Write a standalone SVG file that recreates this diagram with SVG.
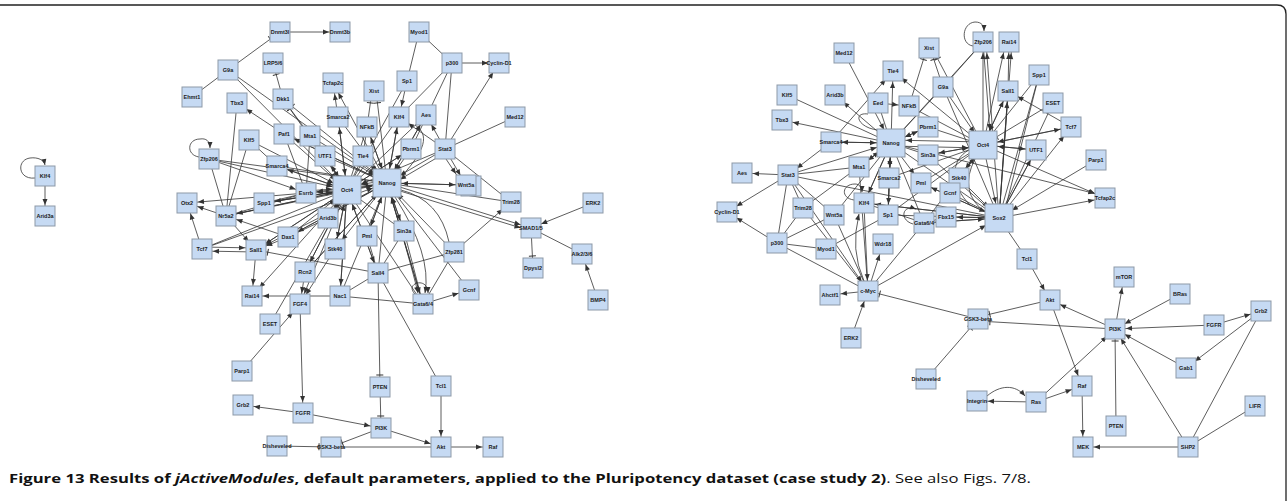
<svg xmlns="http://www.w3.org/2000/svg" width="1287" height="501" viewBox="0 0 1287 501">
<style>
.n rect{fill:#c6daf3;stroke:#8d99a7;stroke-width:1}
.n text{font-family:"Liberation Sans",Arial,sans-serif;font-weight:bold;font-size:5.5px;text-anchor:middle;fill:#1b1b1b}
.c line,.c path{stroke:#333;stroke-width:0.8;fill:none}
.cap{font-family:"Open Sans","Liberation Sans",sans-serif;font-size:12.5px;fill:#111}
</style>
<defs>
<marker id="a" markerUnits="userSpaceOnUse" markerWidth="7" markerHeight="5" refX="17" refY="2.5" orient="auto" overflow="visible"><path d="M0,0 L6,2.5 L0,5 z" fill="#333"/></marker>
<marker id="A" markerUnits="userSpaceOnUse" markerWidth="7" markerHeight="5" refX="21" refY="2.5" orient="auto" overflow="visible"><path d="M0,0 L6,2.5 L0,5 z" fill="#333"/></marker>
<marker id="p" markerUnits="userSpaceOnUse" markerWidth="7" markerHeight="5" refX="6" refY="2.5" orient="auto" overflow="visible"><path d="M0,0 L6,2.5 L0,5 z" fill="#333"/></marker>
<marker id="t" markerUnits="userSpaceOnUse" markerWidth="2" markerHeight="7" refX="12" refY="3.5" orient="auto" overflow="visible"><path d="M0,0 V7" stroke="#333" stroke-width="1"/></marker>
<marker id="T" markerUnits="userSpaceOnUse" markerWidth="2" markerHeight="7" refX="16" refY="3.5" orient="auto" overflow="visible"><path d="M0,0 V7" stroke="#333" stroke-width="1"/></marker>
</defs>
<rect width="1287" height="501" fill="#fff"/>
<path d="M0,5 H1277 Q1286,5 1286,14 V501" fill="none" stroke="#222" stroke-width="1.3"/>

<g id="connectors" class="c">
<!-- LEFT plain -->
<g>
<line x1="228" y1="70" x2="192" y2="97"/><line x1="237" y1="103" x2="226" y2="216"/><line x1="249" y1="140" x2="226" y2="216"/>
<line x1="419" y1="32" x2="407" y2="81"/><line x1="419" y1="32" x2="452" y2="63"/><line x1="452" y1="63" x2="399" y2="117"/>
<line x1="452" y1="63" x2="445" y2="149"/><line x1="452" y1="63" x2="411" y2="149"/><line x1="407" y1="81" x2="347" y2="190"/>
<line x1="445" y1="149" x2="515" y2="117"/><line x1="445" y1="149" x2="511" y2="202"/><line x1="387" y1="183" x2="511" y2="202"/>
<line x1="531" y1="228" x2="582" y2="254"/><line x1="454" y1="252" x2="378" y2="273"/><line x1="454" y1="252" x2="423" y2="304"/>
<line x1="469" y1="290" x2="387" y2="183"/><line x1="404" y1="231" x2="378" y2="273"/><line x1="404" y1="231" x2="423" y2="304"/>
<line x1="378" y1="273" x2="441" y2="386"/><line x1="331" y1="447" x2="441" y2="447"/><line x1="340" y1="296" x2="423" y2="304"/>
<line x1="340" y1="296" x2="378" y2="273"/><line x1="340" y1="296" x2="347" y2="190"/><line x1="209" y1="159" x2="226" y2="216"/>
<line x1="264" y1="203" x2="306" y2="193"/><line x1="328" y1="218" x2="288" y2="237"/><line x1="367" y1="236" x2="378" y2="273"/>
<line x1="277" y1="166" x2="387" y2="183"/><line x1="270" y1="324" x2="347" y2="190"/><line x1="249" y1="140" x2="277" y2="166"/>
<line x1="202" y1="249" x2="347" y2="190"/><line x1="226" y1="216" x2="306" y2="193"/><line x1="226" y1="216" x2="347" y2="190"/>
<line x1="305" y1="272" x2="347" y2="190"/><line x1="209" y1="159" x2="387" y2="183"/><line x1="284" y1="134" x2="306" y2="193"/>
<line x1="310" y1="136" x2="306" y2="193"/><line x1="404" y1="231" x2="347" y2="190"/><line x1="423" y1="304" x2="347" y2="190"/>
<line x1="378" y1="273" x2="387" y2="183"/><line x1="367" y1="127" x2="347" y2="190"/><line x1="363" y1="156" x2="347" y2="190"/>
<line x1="325" y1="156" x2="387" y2="183"/><line x1="411" y1="149" x2="347" y2="190"/><line x1="426" y1="115" x2="347" y2="190"/>
<line x1="338" y1="117" x2="387" y2="183"/><line x1="399" y1="117" x2="347" y2="190"/><line x1="284" y1="134" x2="387" y2="183"/>
<line x1="305" y1="272" x2="387" y2="183"/><line x1="288" y1="237" x2="387" y2="183"/><line x1="256" y1="250" x2="347" y2="190"/>
<line x1="264" y1="203" x2="387" y2="183"/><line x1="340" y1="296" x2="387" y2="183"/>
<path d="M449,242 Q440,200 401,190"/>
<path d="M402,176 C425,150 430,135 415,125"/>
</g>
<g marker-end="url(#a)">
<line x1="280" y1="32" x2="340" y2="32"/><line x1="284" y1="134" x2="237" y2="103"/><line x1="338" y1="117" x2="333" y2="83"/>
<line x1="387" y1="183" x2="333" y2="83"/><line x1="452" y1="63" x2="499" y2="63"/><line x1="445" y1="149" x2="499" y2="63"/>
<line x1="445" y1="149" x2="426" y2="115"/><line x1="445" y1="149" x2="399" y2="117"/><line x1="407" y1="81" x2="399" y2="117"/>
<line x1="445" y1="149" x2="466" y2="185"/><line x1="440" y1="150" x2="462" y2="183"/><line x1="387" y1="183" x2="466" y2="185"/>
<line x1="387" y1="183" x2="531" y2="228"/><line x1="387" y1="187" x2="531" y2="231"/><line x1="593" y1="203" x2="531" y2="228"/>
<line x1="598" y1="300" x2="582" y2="254"/><line x1="454" y1="252" x2="511" y2="202"/><line x1="423" y1="304" x2="469" y2="290"/>
<line x1="441" y1="386" x2="441" y2="447"/><line x1="381" y1="428" x2="441" y2="447"/><line x1="441" y1="447" x2="493" y2="447"/>
<line x1="303" y1="413" x2="243" y2="405"/><line x1="303" y1="413" x2="381" y2="428"/><line x1="300" y1="304" x2="303" y2="413"/>
<line x1="242" y1="371" x2="300" y2="304"/><line x1="340" y1="296" x2="252" y2="296"/><line x1="256" y1="250" x2="252" y2="296"/>
<line x1="202" y1="247" x2="256" y2="248"/><line x1="256" y1="252" x2="202" y2="251"/><line x1="202" y1="249" x2="187" y2="203"/>
<line x1="226" y1="216" x2="187" y2="203"/><line x1="306" y1="193" x2="187" y2="203"/><line x1="226" y1="216" x2="256" y2="250"/>
<line x1="288" y1="237" x2="226" y2="216"/><line x1="209" y1="159" x2="306" y2="193"/><line x1="288" y1="237" x2="256" y2="250"/>
<line x1="305" y1="272" x2="300" y2="304"/><line x1="335" y1="249" x2="300" y2="304"/><line x1="347" y1="190" x2="300" y2="304"/>
<line x1="347" y1="190" x2="252" y2="296"/><line x1="347" y1="190" x2="256" y2="250"/><line x1="387" y1="183" x2="256" y2="250"/>
<line x1="347" y1="190" x2="305" y2="272"/><line x1="347" y1="190" x2="335" y2="249"/><line x1="387" y1="183" x2="335" y2="249"/>
<line x1="347" y1="190" x2="340" y2="296"/><line x1="387" y1="183" x2="367" y2="236"/><line x1="347" y1="190" x2="328" y2="218"/>
<line x1="387" y1="183" x2="404" y2="231"/><line x1="387" y1="183" x2="423" y2="304"/><line x1="347" y1="190" x2="378" y2="273"/>
<line x1="347" y1="190" x2="306" y2="193"/><line x1="387" y1="183" x2="399" y2="117"/><line x1="347" y1="190" x2="411" y2="149"/>
<line x1="387" y1="183" x2="363" y2="156"/><line x1="347" y1="190" x2="325" y2="156"/><line x1="387" y1="183" x2="367" y2="127"/>
<line x1="347" y1="190" x2="338" y2="117"/><line x1="347" y1="190" x2="310" y2="136"/><line x1="387" y1="183" x2="284" y2="134"/>
<line x1="347" y1="190" x2="277" y2="166"/><line x1="347" y1="190" x2="264" y2="203"/><line x1="387" y1="183" x2="306" y2="193"/>
<line x1="347" y1="190" x2="226" y2="216"/><line x1="387" y1="183" x2="288" y2="237"/><line x1="387" y1="183" x2="426" y2="115"/>
<line x1="45" y1="176" x2="45" y2="216"/>
</g>
<g marker-end="url(#A)">
<line x1="228" y1="70" x2="347" y2="190"/><line x1="228" y1="70" x2="387" y2="183"/><line x1="249" y1="140" x2="347" y2="190"/>
<line x1="445" y1="149" x2="387" y2="183"/><line x1="445" y1="153" x2="387" y2="187"/><line x1="445" y1="149" x2="347" y2="190"/>
<line x1="209" y1="159" x2="347" y2="190"/><line x1="277" y1="166" x2="347" y2="190"/><line x1="306" y1="191" x2="347" y2="188"/>
<line x1="310" y1="136" x2="387" y2="183"/><line x1="325" y1="156" x2="347" y2="190"/><line x1="363" y1="156" x2="387" y2="183"/>
<line x1="367" y1="127" x2="387" y2="183"/><line x1="411" y1="149" x2="387" y2="183"/><line x1="399" y1="117" x2="387" y2="183"/>
<line x1="426" y1="115" x2="387" y2="183"/><line x1="466" y1="185" x2="387" y2="183"/><line x1="404" y1="231" x2="387" y2="183"/>
<line x1="454" y1="252" x2="387" y2="183"/><line x1="378" y1="273" x2="347" y2="190"/><line x1="367" y1="236" x2="387" y2="183"/>
<line x1="335" y1="249" x2="347" y2="190"/><line x1="288" y1="237" x2="347" y2="190"/><line x1="328" y1="218" x2="347" y2="190"/>
<line x1="264" y1="203" x2="347" y2="190"/><line x1="226" y1="216" x2="387" y2="183"/><line x1="202" y1="249" x2="387" y2="183"/>
<line x1="347" y1="190" x2="387" y2="183"/><line x1="387" y1="180" x2="347" y2="187"/><line x1="423" y1="304" x2="387" y2="183"/>
<line x1="338" y1="117" x2="347" y2="190"/><line x1="284" y1="134" x2="347" y2="190"/><line x1="305" y1="272" x2="387" y2="183"/>
</g>
<g marker-end="url(#t)">
<line x1="228" y1="70" x2="280" y2="32"/><line x1="283" y1="99" x2="273" y2="63"/><line x1="363" y1="156" x2="372" y2="91"/>
<line x1="387" y1="183" x2="376" y2="91"/><line x1="347" y1="190" x2="283" y2="99"/><line x1="387" y1="183" x2="283" y2="99"/>
<line x1="325" y1="156" x2="283" y2="99"/><line x1="531" y1="228" x2="533" y2="268"/><line x1="378" y1="273" x2="256" y2="250"/>
<line x1="378" y1="273" x2="380" y2="387"/><line x1="380" y1="387" x2="381" y2="428"/><line x1="381" y1="428" x2="331" y2="447"/>
<line x1="277" y1="446" x2="331" y2="447"/>
</g>
<g marker-end="url(#p)">
<path d="M199,157 C186,155 187,139 200,139 C206,138 210,141 210,148"/>
<path d="M415,294 C404,283 428,276 428,293"/>
<path d="M395,197 Q432,255 425,293"/>
<path d="M391,197 Q410,260 418,293"/>
<path d="M35,178 C18,180 16,160 30,158 C38,157 44,160 45,165"/>
</g>

<!-- RIGHT plain -->
<g>
<line x1="787" y1="95" x2="891" y2="143"/><line x1="878" y1="103" x2="891" y2="143"/><line x1="943" y1="87" x2="983" y2="42"/>
<line x1="928" y1="127" x2="983" y2="145"/><line x1="928" y1="155" x2="891" y2="143"/><line x1="1039" y1="75" x2="999" y2="218"/>
<line x1="1039" y1="75" x2="983" y2="145"/><line x1="999" y1="218" x2="1027" y2="259"/><line x1="1261" y1="311" x2="1188" y2="447"/>
<line x1="1255" y1="406" x2="1188" y2="447"/><line x1="868" y1="291" x2="924" y2="223"/><line x1="777" y1="243" x2="868" y2="291"/>
<line x1="859" y1="167" x2="868" y2="291"/><line x1="788" y1="175" x2="777" y2="243"/><line x1="777" y1="243" x2="826" y2="249"/>
<line x1="777" y1="243" x2="834" y2="215"/><line x1="777" y1="243" x2="803" y2="208"/><line x1="826" y1="249" x2="888" y2="215"/>
<line x1="924" y1="223" x2="946" y2="217"/><line x1="788" y1="175" x2="859" y2="167"/><line x1="788" y1="175" x2="999" y2="218"/>
<line x1="788" y1="175" x2="834" y2="215"/><line x1="788" y1="175" x2="803" y2="208"/><line x1="864" y1="203" x2="891" y2="143"/>
<line x1="888" y1="215" x2="891" y2="143"/><line x1="921" y1="183" x2="983" y2="145"/><line x1="959" y1="178" x2="983" y2="145"/>
<line x1="950" y1="193" x2="999" y2="218"/><line x1="924" y1="223" x2="983" y2="145"/><line x1="924" y1="223" x2="891" y2="143"/>
<line x1="834" y1="215" x2="891" y2="143"/><line x1="803" y1="208" x2="891" y2="143"/><line x1="891" y1="143" x2="999" y2="218"/>
<line x1="864" y1="203" x2="999" y2="218"/><line x1="888" y1="215" x2="999" y2="218"/><line x1="928" y1="155" x2="999" y2="218"/>
<line x1="909" y1="106" x2="983" y2="145"/><line x1="943" y1="87" x2="999" y2="218"/><line x1="943" y1="87" x2="891" y2="143"/>
<line x1="983" y1="42" x2="891" y2="143"/><line x1="1008" y1="91" x2="999" y2="218"/><line x1="1053" y1="103" x2="999" y2="218"/>
<line x1="889" y1="178" x2="888" y2="215"/><line x1="864" y1="203" x2="924" y2="223"/><line x1="803" y1="208" x2="868" y2="291"/>
<line x1="834" y1="215" x2="868" y2="291"/><line x1="889" y1="178" x2="983" y2="145"/><line x1="888" y1="215" x2="983" y2="145"/>
<line x1="1036" y1="150" x2="999" y2="218"/><line x1="1039" y1="75" x2="1005" y2="210"/>
<path d="M975,159 Q958,192 985,212"/><path d="M878,130 C858,128 852,112 868,114"/><path d="M969,150 C950,160 950,185 970,205"/>
</g>
<g marker-end="url(#a)">
<line x1="891" y1="143" x2="893" y2="71"/><line x1="831" y1="142" x2="893" y2="71"/><line x1="983" y1="145" x2="893" y2="71"/>
<line x1="891" y1="143" x2="835" y2="95"/><line x1="891" y1="143" x2="782" y2="120"/><line x1="878" y1="103" x2="909" y2="106"/>
<line x1="891" y1="143" x2="928" y2="127"/><line x1="891" y1="143" x2="831" y2="142"/><line x1="983" y1="145" x2="983" y2="42"/>
<line x1="999" y1="218" x2="986" y2="42"/><line x1="1008" y1="91" x2="1009" y2="42"/><line x1="983" y1="145" x2="1006" y2="42"/>
<line x1="999" y1="218" x2="1012" y2="42"/><line x1="983" y1="145" x2="1008" y2="91"/><line x1="999" y1="218" x2="1008" y2="91"/>
<line x1="1071" y1="127" x2="1008" y2="91"/><line x1="983" y1="145" x2="1071" y2="127"/><line x1="999" y1="218" x2="1071" y2="127"/>
<line x1="983" y1="145" x2="1036" y2="150"/><line x1="999" y1="218" x2="1036" y2="150"/><line x1="983" y1="145" x2="1105" y2="198"/>
<line x1="891" y1="143" x2="1105" y2="196"/><line x1="999" y1="218" x2="1105" y2="198"/><line x1="1027" y1="259" x2="1050" y2="300"/>
<line x1="1050" y1="300" x2="1082" y2="386"/><line x1="1115" y1="329" x2="1050" y2="300"/><line x1="1115" y1="329" x2="1124" y2="277"/>
<line x1="1180" y1="294" x2="1115" y2="329"/><line x1="1214" y1="325" x2="1115" y2="329"/><line x1="1214" y1="325" x2="1261" y2="311"/>
<line x1="1261" y1="311" x2="1186" y2="368"/><line x1="1186" y1="368" x2="1115" y2="329"/><line x1="1188" y1="447" x2="1115" y2="329"/>
<line x1="1188" y1="447" x2="1083" y2="447"/><line x1="1036" y1="402" x2="1115" y2="329"/><line x1="1036" y1="402" x2="1082" y2="386"/>
<line x1="1082" y1="386" x2="1083" y2="447"/><line x1="1036" y1="402" x2="977" y2="401"/><line x1="851" y1="338" x2="868" y2="291"/>
<line x1="868" y1="291" x2="830" y2="295"/><line x1="868" y1="291" x2="883" y2="244"/><line x1="788" y1="175" x2="742" y2="173"/>
<line x1="788" y1="175" x2="727" y2="212"/><line x1="777" y1="243" x2="727" y2="212"/><line x1="999" y1="218" x2="946" y2="217"/>
<line x1="788" y1="175" x2="868" y2="291"/><line x1="891" y1="143" x2="864" y2="203"/><line x1="891" y1="143" x2="889" y2="178"/>
<line x1="891" y1="143" x2="859" y2="167"/><line x1="983" y1="145" x2="950" y2="193"/><line x1="983" y1="145" x2="959" y2="178"/>
<line x1="999" y1="218" x2="921" y2="183"/><line x1="999" y1="218" x2="924" y2="223"/><line x1="891" y1="143" x2="921" y2="183"/>
<line x1="864" y1="205" x2="868" y2="291"/><line x1="999" y1="218" x2="864" y2="203"/><line x1="983" y1="145" x2="928" y2="155"/>
<line x1="831" y1="142" x2="788" y2="175"/><line x1="891" y1="143" x2="888" y2="215"/>
</g>
<g marker-end="url(#A)">
<line x1="844" y1="53" x2="891" y2="143"/><line x1="831" y1="142" x2="891" y2="143"/><line x1="983" y1="142" x2="891" y2="140"/>
<line x1="1071" y1="127" x2="983" y2="145"/><line x1="1096" y1="160" x2="999" y2="218"/><line x1="868" y1="291" x2="999" y2="218"/>
<line x1="891" y1="146" x2="983" y2="148"/><line x1="983" y1="145" x2="999" y2="218"/><line x1="788" y1="175" x2="891" y2="143"/>
<line x1="859" y1="167" x2="891" y2="143"/><line x1="943" y1="87" x2="983" y2="145"/><line x1="928" y1="155" x2="983" y2="145"/>
<line x1="921" y1="183" x2="999" y2="218"/><line x1="924" y1="223" x2="999" y2="218"/><line x1="959" y1="178" x2="999" y2="218"/>
<line x1="983" y1="42" x2="991" y2="145"/><line x1="1008" y1="91" x2="983" y2="145"/><line x1="928" y1="127" x2="891" y2="143"/>
<line x1="950" y1="193" x2="983" y2="145"/><line x1="889" y1="178" x2="891" y2="143"/><line x1="1036" y1="150" x2="983" y2="145"/>
</g>
<g marker-end="url(#t)">
<line x1="909" y1="106" x2="927" y2="48"/><line x1="943" y1="87" x2="930" y2="48"/><line x1="983" y1="145" x2="932" y2="48"/>
<line x1="1050" y1="300" x2="978" y2="317"/><line x1="1115" y1="329" x2="978" y2="321"/><line x1="926" y1="379" x2="978" y2="319"/>
<line x1="978" y1="319" x2="868" y2="291"/><line x1="1116" y1="426" x2="1115" y2="329"/>
</g>
<g marker-end="url(#T)">
<line x1="1053" y1="103" x2="983" y2="145"/>
</g>
<g marker-end="url(#p)">
<path d="M973,46 C960,44 962,23 975,22 C982,22 984,26 984,31"/>
<path d="M854,200 C840,198 842,184 855,184 C860,184 862,188 862,192"/>
<path d="M864,281 Q850,250 859,214"/>
<path d="M987,396 C1000,385 1015,384 1025,396"/>
<path d="M913,224 C899,220 902,204 916,209"/>
</g>
</g>

<!-- LEFT nodes -->
<g id="L_Klf4" class="n"><rect x="35" y="166" width="20" height="20"/><text x="45" y="178">Klf4</text></g>
<g id="L_Arid3a" class="n"><rect x="35" y="206" width="20" height="20"/><text x="45" y="218">Arid3a</text></g>
<g id="L_Dnmt3l" class="n"><rect x="270" y="22" width="20" height="20"/><text x="280" y="34">Dnmt3l</text></g>
<g id="L_Dnmt3b" class="n"><rect x="330" y="22" width="20" height="20"/><text x="340" y="34">Dnmt3b</text></g>
<g id="L_G9a" class="n"><rect x="218" y="60" width="20" height="20"/><text x="228" y="72">G9a</text></g>
<g id="L_LRP56" class="n"><rect x="263" y="53" width="20" height="20"/><text x="273" y="65">LRP5/6</text></g>
<g id="L_Ehmt1" class="n"><rect x="182" y="87" width="20" height="20"/><text x="192" y="99">Ehmt1</text></g>
<g id="L_Tbx3" class="n"><rect x="227" y="93" width="20" height="20"/><text x="237" y="105">Tbx3</text></g>
<g id="L_Dkk1" class="n"><rect x="273" y="89" width="20" height="20"/><text x="283" y="101">Dkk1</text></g>
<g id="L_Tcfap2c" class="n"><rect x="323" y="73" width="20" height="20"/><text x="333" y="85">Tcfap2c</text></g>
<g id="L_Xist" class="n"><rect x="364" y="81" width="20" height="20"/><text x="374" y="93">Xist</text></g>
<g id="L_Smarca2" class="n"><rect x="328" y="107" width="20" height="20"/><text x="338" y="119">Smarca2</text></g>
<g id="L_NFkB" class="n"><rect x="357" y="117" width="20" height="20"/><text x="367" y="129">NFkB</text></g>
<g id="L_Paf1" class="n"><rect x="274" y="124" width="20" height="20"/><text x="284" y="136">Paf1</text></g>
<g id="L_Mta1" class="n"><rect x="300" y="126" width="20" height="20"/><text x="310" y="138">Mta1</text></g>
<g id="L_Klf5" class="n"><rect x="239" y="130" width="20" height="20"/><text x="249" y="142">Klf5</text></g>
<g id="L_UTF1" class="n"><rect x="315" y="146" width="20" height="20"/><text x="325" y="158">UTF1</text></g>
<g id="L_Tle4" class="n"><rect x="353" y="146" width="20" height="20"/><text x="363" y="158">Tle4</text></g>
<g id="L_Zfp206" class="n"><rect x="199" y="149" width="20" height="20"/><text x="209" y="161">Zfp206</text></g>
<g id="L_Myod1" class="n"><rect x="409" y="22" width="20" height="20"/><text x="419" y="34">Myod1</text></g>
<g id="L_p300" class="n"><rect x="442" y="53" width="20" height="20"/><text x="452" y="65">p300</text></g>
<g id="L_CyclinD1" class="n"><rect x="489" y="53" width="20" height="20"/><text x="499" y="65">Cyclin-D1</text></g>
<g id="L_Sp1" class="n"><rect x="397" y="71" width="20" height="20"/><text x="407" y="83">Sp1</text></g>
<g id="L_Klf4b" class="n"><rect x="389" y="107" width="20" height="20"/><text x="399" y="119">Klf4</text></g>
<g id="L_Aes" class="n"><rect x="416" y="105" width="20" height="20"/><text x="426" y="117">Aes</text></g>
<g id="L_Med12" class="n"><rect x="505" y="107" width="20" height="20"/><text x="515" y="119">Med12</text></g>
<g id="L_Pbrm1" class="n"><rect x="401" y="139" width="20" height="20"/><text x="411" y="151">Pbrm1</text></g>
<g id="L_Stat3" class="n"><rect x="435" y="139" width="20" height="20"/><text x="445" y="151">Stat3</text></g>
<g id="L_Smarca4" class="n"><rect x="267" y="156" width="20" height="20"/><text x="277" y="168">Smarca4</text></g>
<g id="L_Esrrb" class="n"><rect x="296" y="183" width="20" height="20"/><text x="306" y="195">Esrrb</text></g>
<g id="L_Oct4" class="n"><rect x="333" y="176" width="28" height="28"/><text x="347" y="192">Oct4</text></g>
<g id="L_Nanog" class="n"><rect x="373" y="169" width="28" height="28"/><text x="387" y="185">Nanog</text></g>
<g id="L_Otx2" class="n"><rect x="177" y="193" width="20" height="20"/><text x="187" y="205">Otx2</text></g>
<g id="L_Spp1" class="n"><rect x="254" y="193" width="20" height="20"/><text x="264" y="205">Spp1</text></g>
<g id="L_Nr5a2" class="n"><rect x="216" y="206" width="20" height="20"/><text x="226" y="218">Nr5a2</text></g>
<g id="L_Arid3b" class="n"><rect x="318" y="208" width="20" height="20"/><text x="328" y="220">Arid3b</text></g>
<g id="L_Dax1" class="n"><rect x="278" y="227" width="20" height="20"/><text x="288" y="239">Dax1</text></g>
<g id="L_Pml" class="n"><rect x="357" y="226" width="20" height="20"/><text x="367" y="238">Pml</text></g>
<g id="L_Tcf7" class="n"><rect x="192" y="239" width="20" height="20"/><text x="202" y="251">Tcf7</text></g>
<g id="L_Sall1" class="n"><rect x="246" y="240" width="20" height="20"/><text x="256" y="252">Sall1</text></g>
<g id="L_Stk40" class="n"><rect x="325" y="239" width="20" height="20"/><text x="335" y="251">Stk40</text></g>
<g id="L_Sall4" class="n"><rect x="368" y="263" width="20" height="20"/><text x="378" y="275">Sall4</text></g>
<g id="L_Rcn2" class="n"><rect x="295" y="262" width="20" height="20"/><text x="305" y="274">Rcn2</text></g>
<g id="L_Rai14" class="n"><rect x="242" y="286" width="20" height="20"/><text x="252" y="298">Rai14</text></g>
<g id="L_Nac1" class="n"><rect x="330" y="286" width="20" height="20"/><text x="340" y="298">Nac1</text></g>
<g id="L_FGF4" class="n"><rect x="290" y="294" width="20" height="20"/><text x="300" y="306">FGF4</text></g>
<g id="L_Wnt5a" class="n"><rect x="461" y="176" width="20" height="20"/><rect x="456" y="175" width="20" height="20"/><text x="466" y="187">Wnt5a</text></g>
<g id="L_Trim28" class="n"><rect x="501" y="192" width="20" height="20"/><text x="511" y="204">Trim28</text></g>
<g id="L_ERK2" class="n"><rect x="583" y="193" width="20" height="20"/><text x="593" y="205">ERK2</text></g>
<g id="L_SMAD15" class="n"><rect x="521" y="218" width="20" height="20"/><text x="531" y="230">SMAD1/5</text></g>
<g id="L_Sin3a" class="n"><rect x="394" y="221" width="20" height="20"/><text x="404" y="233">Sin3a</text></g>
<g id="L_Zfp281" class="n"><rect x="444" y="242" width="20" height="20"/><text x="454" y="254">Zfp281</text></g>
<g id="L_Alk236" class="n"><rect x="572" y="244" width="20" height="20"/><text x="582" y="256">Alk2/3/6</text></g>
<g id="L_Dpysl2" class="n"><rect x="523" y="258" width="20" height="20"/><text x="533" y="270">Dpysl2</text></g>
<g id="L_Gcnf" class="n"><rect x="459" y="280" width="20" height="20"/><text x="469" y="292">Gcnf</text></g>
<g id="L_Gata64" class="n"><rect x="413" y="294" width="20" height="20"/><text x="423" y="306">Gata6/4</text></g>
<g id="L_BMP4" class="n"><rect x="588" y="290" width="20" height="20"/><text x="598" y="302">BMP4</text></g>
<g id="L_ESET" class="n"><rect x="260" y="314" width="20" height="20"/><text x="270" y="326">ESET</text></g>
<g id="L_Parp1" class="n"><rect x="232" y="361" width="20" height="20"/><text x="242" y="373">Parp1</text></g>
<g id="L_PTEN" class="n"><rect x="370" y="377" width="20" height="20"/><text x="380" y="389">PTEN</text></g>
<g id="L_Grb2" class="n"><rect x="233" y="395" width="20" height="20"/><text x="243" y="407">Grb2</text></g>
<g id="L_FGFR" class="n"><rect x="293" y="403" width="20" height="20"/><text x="303" y="415">FGFR</text></g>
<g id="L_PI3K" class="n"><rect x="371" y="418" width="20" height="20"/><text x="381" y="430">PI3K</text></g>
<g id="L_Disheveled" class="n"><rect x="267" y="436" width="20" height="20"/><text x="277" y="448">Disheveled</text></g>
<g id="L_GSK3b" class="n"><rect x="321" y="437" width="20" height="20"/><text x="331" y="449">GSK3-beta</text></g>
<g id="L_Tcl1" class="n"><rect x="431" y="376" width="20" height="20"/><text x="441" y="388">Tcl1</text></g>
<g id="L_Akt" class="n"><rect x="431" y="437" width="20" height="20"/><text x="441" y="449">Akt</text></g>
<g id="L_Raf" class="n"><rect x="483" y="437" width="20" height="20"/><text x="493" y="449">Raf</text></g>

<!-- RIGHT nodes -->
<g id="R_Med12" class="n"><rect x="834" y="43" width="20" height="20"/><text x="844" y="55">Med12</text></g>
<g id="R_Xist" class="n"><rect x="919" y="38" width="20" height="20"/><text x="929" y="50">Xist</text></g>
<g id="R_Zfp206" class="n"><rect x="973" y="32" width="20" height="20"/><text x="983" y="44">Zfp206</text></g>
<g id="R_Rai14" class="n"><rect x="999" y="32" width="20" height="20"/><text x="1009" y="44">Rai14</text></g>
<g id="R_Tle4" class="n"><rect x="883" y="61" width="20" height="20"/><text x="893" y="73">Tle4</text></g>
<g id="R_Spp1" class="n"><rect x="1029" y="65" width="20" height="20"/><text x="1039" y="77">Spp1</text></g>
<g id="R_Klf5" class="n"><rect x="777" y="85" width="20" height="20"/><text x="787" y="97">Klf5</text></g>
<g id="R_Arid3b" class="n"><rect x="825" y="85" width="20" height="20"/><text x="835" y="97">Arid3b</text></g>
<g id="R_G9a" class="n"><rect x="933" y="77" width="20" height="20"/><text x="943" y="89">G9a</text></g>
<g id="R_Sall1" class="n"><rect x="998" y="81" width="20" height="20"/><text x="1008" y="93">Sall1</text></g>
<g id="R_Eed" class="n"><rect x="868" y="93" width="20" height="20"/><text x="878" y="105">Eed</text></g>
<g id="R_NFkB" class="n"><rect x="899" y="96" width="20" height="20"/><text x="909" y="108">NFkB</text></g>
<g id="R_ESET" class="n"><rect x="1043" y="93" width="20" height="20"/><text x="1053" y="105">ESET</text></g>
<g id="R_Tbx3" class="n"><rect x="772" y="110" width="20" height="20"/><text x="782" y="122">Tbx3</text></g>
<g id="R_Pbrm1" class="n"><rect x="918" y="117" width="20" height="20"/><text x="928" y="129">Pbrm1</text></g>
<g id="R_Tcf7" class="n"><rect x="1061" y="117" width="20" height="20"/><text x="1071" y="129">Tcf7</text></g>
<g id="R_Smarca4" class="n"><rect x="821" y="132" width="20" height="20"/><text x="831" y="144">Smarca4</text></g>
<g id="R_Nanog" class="n"><rect x="877" y="129" width="28" height="28"/><text x="891" y="145">Nanog</text></g>
<g id="R_Oct4" class="n"><rect x="969" y="131" width="28" height="28"/><text x="983" y="147">Oct4</text></g>
<g id="R_UTF1" class="n"><rect x="1026" y="140" width="20" height="20"/><text x="1036" y="152">UTF1</text></g>
<g id="R_Sin3a" class="n"><rect x="918" y="145" width="20" height="20"/><text x="928" y="157">Sin3a</text></g>
<g id="R_Parp1" class="n"><rect x="1086" y="150" width="20" height="20"/><text x="1096" y="162">Parp1</text></g>
<g id="R_Mta1" class="n"><rect x="849" y="157" width="20" height="20"/><text x="859" y="169">Mta1</text></g>
<g id="R_Aes" class="n"><rect x="732" y="163" width="20" height="20"/><text x="742" y="175">Aes</text></g>
<g id="R_Stat3" class="n"><rect x="778" y="165" width="20" height="20"/><text x="788" y="177">Stat3</text></g>
<g id="R_Smarca2" class="n"><rect x="879" y="168" width="20" height="20"/><text x="889" y="180">Smarca2</text></g>
<g id="R_Pml" class="n"><rect x="911" y="173" width="20" height="20"/><text x="921" y="185">Pml</text></g>
<g id="R_Stk40" class="n"><rect x="949" y="168" width="20" height="20"/><text x="959" y="180">Stk40</text></g>
<g id="R_Gcnf" class="n"><rect x="940" y="183" width="20" height="20"/><text x="950" y="195">Gcnf</text></g>
<g id="R_Tcfap2c" class="n"><rect x="1095" y="188" width="20" height="20"/><text x="1105" y="200">Tcfap2c</text></g>
<g id="R_CyclinD1" class="n"><rect x="717" y="202" width="20" height="20"/><text x="727" y="214">Cyclin-D1</text></g>
<g id="R_Trim28" class="n"><rect x="793" y="198" width="20" height="20"/><text x="803" y="210">Trim28</text></g>
<g id="R_Wnt5a" class="n"><rect x="824" y="205" width="20" height="20"/><text x="834" y="217">Wnt5a</text></g>
<g id="R_Klf4" class="n"><rect x="854" y="193" width="20" height="20"/><text x="864" y="205">Klf4</text></g>
<g id="R_Sp1" class="n"><rect x="878" y="205" width="20" height="20"/><text x="888" y="217">Sp1</text></g>
<g id="R_Gata64" class="n"><rect x="914" y="213" width="20" height="20"/><text x="924" y="225">Gata6/4</text></g>
<g id="R_Fbx15" class="n"><rect x="936" y="207" width="20" height="20"/><text x="946" y="219">Fbx15</text></g>
<g id="R_Sox2" class="n"><rect x="985" y="204" width="28" height="28"/><text x="999" y="220">Sox2</text></g>
<g id="R_p300" class="n"><rect x="767" y="233" width="20" height="20"/><text x="777" y="245">p300</text></g>
<g id="R_Myod1" class="n"><rect x="816" y="239" width="20" height="20"/><text x="826" y="251">Myod1</text></g>
<g id="R_Wdr18" class="n"><rect x="873" y="234" width="20" height="20"/><text x="883" y="246">Wdr18</text></g>
<g id="R_cMyc" class="n"><rect x="858" y="281" width="20" height="20"/><text x="868" y="293">c-Myc</text></g>
<g id="R_Ahctf1" class="n"><rect x="820" y="285" width="20" height="20"/><text x="830" y="297">Ahctf1</text></g>
<g id="R_GSK3b" class="n"><rect x="968" y="309" width="20" height="20"/><text x="978" y="321">GSK3-beta</text></g>
<g id="R_Tcl1" class="n"><rect x="1017" y="249" width="20" height="20"/><text x="1027" y="261">Tcl1</text></g>
<g id="R_mTOR" class="n"><rect x="1114" y="267" width="20" height="20"/><text x="1124" y="279">mTOR</text></g>
<g id="R_BRas" class="n"><rect x="1170" y="284" width="20" height="20"/><text x="1180" y="296">BRas</text></g>
<g id="R_Akt" class="n"><rect x="1040" y="290" width="20" height="20"/><text x="1050" y="302">Akt</text></g>
<g id="R_Grb2" class="n"><rect x="1251" y="301" width="20" height="20"/><text x="1261" y="313">Grb2</text></g>
<g id="R_PI3K" class="n"><rect x="1105" y="319" width="20" height="20"/><text x="1115" y="331">PI3K</text></g>
<g id="R_FGFR" class="n"><rect x="1204" y="315" width="20" height="20"/><text x="1214" y="327">FGFR</text></g>
<g id="R_ERK2" class="n"><rect x="841" y="328" width="20" height="20"/><text x="851" y="340">ERK2</text></g>
<g id="R_Gab1" class="n"><rect x="1176" y="358" width="20" height="20"/><text x="1186" y="370">Gab1</text></g>
<g id="R_Disheveled" class="n"><rect x="916" y="369" width="20" height="20"/><text x="926" y="381">Disheveled</text></g>
<g id="R_Integrin" class="n"><rect x="967" y="391" width="20" height="20"/><text x="977" y="403">Integrin</text></g>
<g id="R_Ras" class="n"><rect x="1026" y="392" width="20" height="20"/><text x="1036" y="404">Ras</text></g>
<g id="R_Raf" class="n"><rect x="1072" y="376" width="20" height="20"/><text x="1082" y="388">Raf</text></g>
<g id="R_LIFR" class="n"><rect x="1245" y="396" width="20" height="20"/><text x="1255" y="408">LIFR</text></g>
<g id="R_PTEN" class="n"><rect x="1106" y="416" width="20" height="20"/><text x="1116" y="428">PTEN</text></g>
<g id="R_MEK" class="n"><rect x="1073" y="437" width="20" height="20"/><text x="1083" y="449">MEK</text></g>
<g id="R_SHP2" class="n"><rect x="1178" y="437" width="20" height="20"/><text x="1188" y="449">SHP2</text></g>

<text class="cap" x="9" y="483" textLength="1022" lengthAdjust="spacingAndGlyphs"><tspan font-weight="bold">Figure 13 Results of </tspan><tspan font-weight="bold" font-style="italic">jActiveModules</tspan><tspan font-weight="bold">, default parameters, applied to the Pluripotency dataset (case study 2)</tspan><tspan>. See also Figs. 7/8.</tspan></text>
</svg>
